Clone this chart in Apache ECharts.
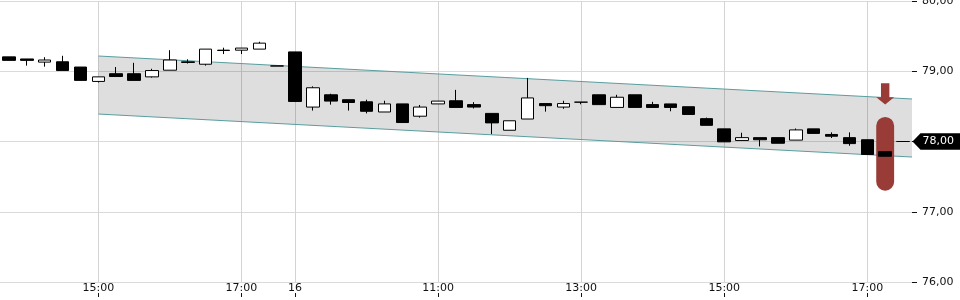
<!DOCTYPE html>
<html><head><meta charset="utf-8">
<script src="https://cdn.jsdelivr.net/npm/echarts@6/dist/echarts.min.js"></script>
<style>html,body{margin:0;padding:0;background:#fff}#c{width:960px;height:300px}</style>
</head><body><div id="c"></div>
<script>
const day1 = '15';
const day2 = '16';
const day1Times = ['13:45','14:00','14:15','14:30','14:45','15:00','15:15','15:30','15:45','16:00','16:15','16:30','16:45','17:00','17:15','17:30'];
const day2Times = ['09:00','09:15','09:30','09:45','10:00','10:15','10:30','10:45','11:00','11:15','11:30','11:45','12:00','12:15','12:30','12:45','13:00','13:15','13:30','13:45','14:00','14:15','14:30','14:45','15:00','15:15','15:30','15:45','16:00','16:15','16:30','16:45','17:00','17:15','17:30'];
const tickCategories = ['15 15:00','15 17:00','16 09:00','16 11:00','16 13:00','16 15:00','16 17:00'];
const tickLabels = ['15:00','17:00','16','11:00','13:00','15:00','17:00'];
const yTicks = [76, 77, 78, 79, 80];

const opens  = [79.205,79.175,79.13,79.135,79.06,78.855,78.965,78.965,78.92,79.015,79.125,79.10,79.295,79.30,79.315,79.075,
                79.275,78.49,78.665,78.595,78.565,78.42,78.535,78.36,78.535,78.58,78.525,78.40,78.16,78.32,78.54,78.49,78.56,78.665,78.485,78.665,78.525,78.535,78.495,78.325,78.18,78.015,78.055,78.055,78.02,78.18,78.10,78.055,78.025,77.855,78.00];
const closes = [79.155,79.155,79.16,79.01,78.87,78.92,78.925,78.87,79.01,79.16,79.135,79.315,79.30,79.33,79.40,79.075,
                78.57,78.765,78.575,78.555,78.43,78.535,78.27,78.49,78.575,78.485,78.49,78.265,78.295,78.62,78.51,78.54,78.56,78.525,78.63,78.485,78.485,78.485,78.385,78.23,77.995,78.055,78.025,77.975,78.165,78.115,78.075,77.97,77.815,77.79,78.00];
const lows   = [79.155,79.08,79.065,79.01,78.87,78.84,78.925,78.87,78.91,79.015,79.11,79.08,79.245,79.245,79.315,79.075,
                78.57,78.44,78.525,78.44,78.40,78.42,78.27,78.34,78.535,78.485,78.47,78.105,78.16,78.32,78.425,78.465,78.53,78.525,78.485,78.485,78.485,78.43,78.385,78.23,77.995,78.015,77.93,77.975,78.02,78.115,78.05,77.94,77.815,77.79,78.00];
const highs  = [79.205,79.175,79.20,79.22,79.06,78.92,79.06,79.12,79.035,79.30,79.17,79.315,79.335,79.33,79.42,79.075,
                79.275,78.785,78.68,78.595,78.595,78.58,78.535,78.52,78.575,78.735,78.56,78.40,78.295,78.905,78.54,78.58,78.56,78.665,78.665,78.665,78.565,78.535,78.495,78.34,78.18,78.125,78.055,78.055,78.185,78.18,78.13,78.13,78.025,77.855,78.00];

const channelStart = '15 15:00';
const channelUpper = [79.217, 78.605];
const channelLower = [78.391, 77.779];
const signalCategory = '16 17:15';
const signalRange = [77.30, 78.35];
const signalArrow = [78.83, 78.63, 78.525];
const lastPrice = 78.00;

const categories = day1Times.map(t => day1 + ' ' + t).concat(day2Times.map(t => day2 + ' ' + t));
const candleData = opens.map((o, i) => [o, closes[i], lows[i], highs[i]]);
const fmtPrice = v => v.toFixed(2).replace('.', ',');
const isTick = (idx, val) => tickCategories.indexOf(categories[idx]) >= 0;
const FONT = 'DejaVu Sans';

const chart = echarts.init(document.getElementById('c'), null, {renderer: 'canvas'});
chart.setOption({
  animation: false,
  backgroundColor: '#fff',
  grid: {left: 0, right: 48, top: 1, bottom: 18, containLabel: false, outerBoundsMode: 'none'},
  xAxis: [{
    type: 'category', data: categories, boundaryGap: true,
    axisLine: {show: false}, axisTick: {show: false},
    splitLine: {show: false},
    axisLabel: {interval: isTick, margin: 1, color: '#111', fontSize: 11, fontFamily: FONT,
      formatter: v => tickLabels[tickCategories.indexOf(v)]}
  }, {
    type: 'category', data: categories, boundaryGap: true, position: 'bottom', offset: 11,
    axisLine: {show: false}, axisLabel: {show: false}, splitLine: {show: false},
    axisTick: {show: true, alignWithLabel: true, interval: isTick, length: 4, lineStyle: {color: '#111', width: 1}}
  }],
  yAxis: {
    type: 'value', position: 'right', min: yTicks[0], max: yTicks[yTicks.length - 1], interval: 1,
    axisLine: {show: false},
    axisTick: {show: true, length: 5, lineStyle: {color: '#111'}},
    axisLabel: {margin: 10, color: '#111', fontSize: 11, fontFamily: FONT, formatter: fmtPrice},
    splitLine: {show: true, lineStyle: {color: '#dadada', width: 1}}
  },
  series: [{
    type: 'custom', z: 1, silent: true, xAxisIndex: 0,
    data: [[categories.indexOf(channelStart), channelUpper[0]]],
    renderItem: function (params, api) {
      const i0 = categories.indexOf(channelStart), iN = categories.length - 1;
      const half = api.size([1, 0])[0] / 2;
      const a0 = api.coord([i0, channelUpper[0]]), a1 = api.coord([iN, channelUpper[1]]);
      const b0 = api.coord([i0, channelLower[0]]), b1 = api.coord([iN, channelLower[1]]);
      const xa = a0[0], xb = a1[0] + half;
      return {type: 'group', children: [
        {type: 'polygon', shape: {points: [[xa, a0[1]], [xb, a1[1]], [xb, b1[1]], [xa, b0[1]]]}, style: {fill: 'rgba(0,0,0,0.13)'}},
        {type: 'line', shape: {x1: xa, y1: a0[1], x2: xb, y2: a1[1]}, style: {stroke: '#5a9d9f', lineWidth: 1}},
        {type: 'line', shape: {x1: xa, y1: b0[1], x2: xb, y2: b1[1]}, style: {stroke: '#5a9d9f', lineWidth: 1}}
      ]};
    },
    markLine: {
      silent: true, z: 0, symbol: ['none', 'none'], label: {show: false},
      lineStyle: {color: '#d4d4d4', type: 'solid', width: 1},
      data: tickCategories.map(c => ({xAxis: c}))
    }
  }, {
    type: 'custom', z: 2, silent: true, xAxisIndex: 0,
    data: [[categories.indexOf(signalCategory), signalRange[0]]],
    renderItem: function (params, api) {
      const i = categories.indexOf(signalCategory);
      const half = api.size([1, 0])[0] / 2;
      const top = api.coord([i, signalRange[1]]), bot = api.coord([i, signalRange[0]]);
      const cx = top[0];
      const ya = api.coord([i, signalArrow[0]])[1], yb = api.coord([i, signalArrow[1]])[1], yc = api.coord([i, signalArrow[2]])[1];
      const sw = half * 0.47;
      return {type: 'group', children: [
        {type: 'rect', shape: {x: cx - half, y: top[1], width: half * 2, height: bot[1] - top[1], r: half}, style: {fill: '#993b36'}},
        {type: 'polygon', shape: {points: [[cx - sw, ya], [cx + sw, ya], [cx + sw, yb], [cx + half, yb], [cx, yc], [cx - half, yb], [cx - sw, yb]]}, style: {fill: '#993b36'}}
      ]};
    }
  }, {
    type: 'candlestick', z: 3, xAxisIndex: 0, barWidth: 13,
    data: candleData,
    itemStyle: {color: '#ffffff', color0: '#000000', borderColor: '#000000', borderColor0: '#000000', borderColorDoji: '#000000', borderWidth: 1}
  }, {
    type: 'custom', z: 5, silent: true, clip: false, xAxisIndex: 0,
    data: [[categories.length - 1, lastPrice]],
    renderItem: function (params, api) {
      const half = api.size([1, 0])[0] / 2;
      const p = api.coord([categories.length - 1, lastPrice]);
      const x0 = p[0] + half + 0.5, y = p[1], h = 8.2, W = api.getWidth();
      return {type: 'group', children: [
        {type: 'polygon', shape: {points: [[x0, y], [x0 + 8, y - h], [W, y - h], [W, y + h], [x0 + 8, y + h]]}, style: {fill: '#000'}},
        {type: 'text', style: {text: fmtPrice(lastPrice), x: x0 + 10, y: y, fill: '#fff', fontSize: 11, fontFamily: FONT, align: 'left', verticalAlign: 'middle'}}
      ]};
    }
  }]
});
</script></body></html>
